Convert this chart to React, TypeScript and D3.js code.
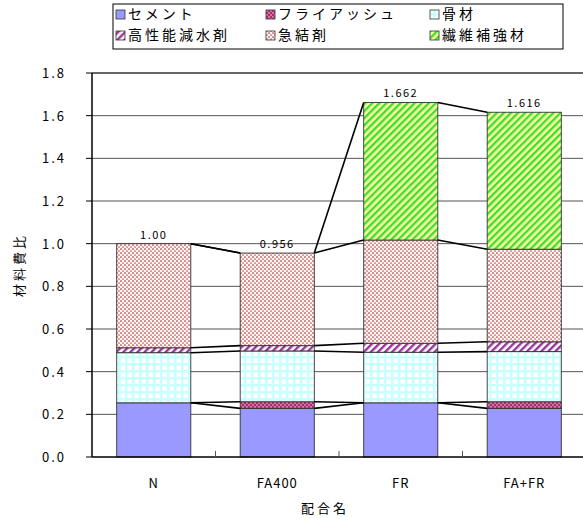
import React from "react";
import * as d3 from "d3";

const categories = ["N", "FA400", "FR", "FA+FR"];
const seriesNames = ["セメント", "フライアッシュ", "骨材", "高性能減水剤", "急結剤", "繊維補強材"];
const cement = [0.254, 0.228, 0.254, 0.228];
const flyash = [0, 0.031, 0, 0.031];
const aggregate = [0.235, 0.238, 0.237, 0.235];
const superplasticizer = [0.023, 0.025, 0.042, 0.046];
const accelerator = [0.488, 0.434, 0.484, 0.434];
const fiber = [0, 0, 0.645, 0.642];
const totalLabels = ["1.00", "0.956", "1.662", "1.616"];
const yTicks = [0, 0.2, 0.4, 0.6, 0.8, 1.0, 1.2, 1.4, 1.6, 1.8];

const seriesValues = [cement, flyash, aggregate, superplasticizer, accelerator, fiber];
const fills = ["#9999FF", "url(#pFA)", "url(#pAgg)", "url(#pSP)", "url(#pAcc)", "url(#pFib)"];

const W = 583, H = 518;
const left = 92, right = 586, top = 73, bottom = 457;
const font = "'Noto Sans CJK JP', 'DejaVu Sans', sans-serif";

export default function App() {
  const x = d3.scaleBand<string>().domain(categories).range([left, right]).paddingInner(0.4).paddingOuter(0.2);
  const y = d3.scaleLinear().domain([0, 1.8]).range([bottom, top]);
  const table = categories.map((c, i) => {
    const row: any = { cat: c };
    seriesNames.forEach((s, k) => (row[s] = seriesValues[k][i]));
    return row;
  });
  const stacked = d3.stack().keys(seriesNames)(table);
  const bw = x.bandwidth();

  const legCols = [117, 267, 431];
  const legRows = [14, 35];

  return (
    <svg width={W} height={H} style={{ position: "absolute", left: 0, top: 0, background: "#fff" }}>
      <defs>
        <pattern id="pFA" width={4} height={4} patternUnits="userSpaceOnUse">
          <rect width={4} height={4} fill="#A8306A" />
          <circle cx={1} cy={1} r={0.9} fill="#E890C0" />
          <circle cx={3} cy={3} r={0.9} fill="#E890C0" />
        </pattern>
        <pattern id="pAgg" width={7} height={7} patternUnits="userSpaceOnUse">
          <rect width={7} height={7} fill="#C8FFFF" />
          <rect x={1.5} y={1.5} width={4.5} height={4.5} fill="#FFFFFF" />
        </pattern>
        <pattern id="pSP" width={5} height={5} patternUnits="userSpaceOnUse" patternTransform="rotate(45)">
          <rect width={5} height={5} fill="#FFFFFF" />
          <rect width={2.4} height={5} fill="#993399" />
        </pattern>
        <pattern id="pAcc" width={4} height={4} patternUnits="userSpaceOnUse">
          <rect width={4} height={4} fill="#FFF6F6" />
          <circle cx={1} cy={1} r={0.85} fill="#B03030" />
          <circle cx={3} cy={3} r={0.85} fill="#C85050" />
        </pattern>
        <pattern id="pFib" width={5} height={5} patternUnits="userSpaceOnUse" patternTransform="rotate(45)">
          <rect width={5} height={5} fill="#F4FFA0" />
          <rect width={2.3} height={5} fill="#40DD30" />
        </pattern>
      </defs>

      {/* legend */}
      <rect x={113} y={4} width={450} height={45} fill="#fff" stroke="#000" strokeWidth={1} />
      {seriesNames.map((s, k) => {
        const cx = legCols[k % 3];
        const cy = legRows[Math.floor(k / 3)];
        return (
          <g key={s}>
            <rect x={cx - 1} y={cy - 4} width={9} height={9} fill={fills[k]} stroke="#333" strokeWidth={0.8} />
            <text x={cx + 11} y={cy + 5} fontSize={14} fontFamily={font} letterSpacing={3}>{s}</text>
          </g>
        );
      })}

      {/* gridlines */}
      {yTicks.filter((t) => t > 0).map((t) => (
        <line key={t} x1={left} x2={W} y1={y(t)} y2={y(t)} stroke={t === 1.8 ? "#333" : "#555"} strokeWidth={t === 1.8 ? 1.5 : 1} />
      ))}

      {/* bars */}
      {stacked.map((layer, k) => (
        <g key={layer.key}>
          {layer.map((d, i) =>
            d[1] - d[0] > 0 ? (
              <rect key={i} x={x(categories[i])!} y={y(d[1])} width={bw} height={y(d[0]) - y(d[1])} fill={fills[k]} stroke="#333" strokeWidth={0.9} />
            ) : null
          )}
        </g>
      ))}

      {/* series lines */}
      {stacked.map((layer) =>
        categories.slice(0, -1).map((c, i) => (
          <line key={layer.key + i} x1={x(c)! + bw} x2={x(categories[i + 1])!} y1={y(layer[i][1])} y2={y(layer[i + 1][1])} stroke="#000" strokeWidth={1.6} />
        ))
      )}

      {/* total labels */}
      {categories.map((c, i) => (
        <text key={c} x={x(c)! + bw / 2} y={y(stacked[stacked.length - 1][i][1]) - 5} textAnchor="middle" fontSize={11} fontFamily={font} letterSpacing={1.5}>{totalLabels[i]}</text>
      ))}

      {/* axes */}
      <line x1={left} x2={left} y1={top} y2={bottom} stroke="#000" strokeWidth={1.5} />
      <line x1={left} x2={W} y1={bottom} y2={bottom} stroke="#000" strokeWidth={1.5} />
      {yTicks.map((t) => (
        <g key={t}>
          <line x1={left - 6} x2={left} y1={y(t)} y2={y(t)} stroke="#000" strokeWidth={1} />
          <text x={66} y={y(t) + 5} textAnchor="end" fontSize={13} fontFamily={font} letterSpacing={2}>{t.toFixed(1)}</text>
        </g>
      ))}
      {categories.slice(1).map((c) => {
        const xx = x(c)! - (x.step() - bw) / 2;
        return <line key={c} x1={xx} x2={xx} y1={bottom} y2={bottom - 6} stroke="#555" strokeWidth={1} />;
      })}
      {categories.map((c) => (
        <text key={c} x={x(c)! + bw / 2} y={488} textAnchor="middle" fontSize={13} fontFamily={font} letterSpacing={1}>{c}</text>
      ))}
      <text x={325} y={513} textAnchor="middle" fontSize={13} fontFamily={font} letterSpacing={3}>配合名</text>
      <text transform={`translate(24,265) rotate(-90)`} textAnchor="middle" fontSize={13} fontFamily={font} letterSpacing={3}>材料費比</text>
    </svg>
  );
}
